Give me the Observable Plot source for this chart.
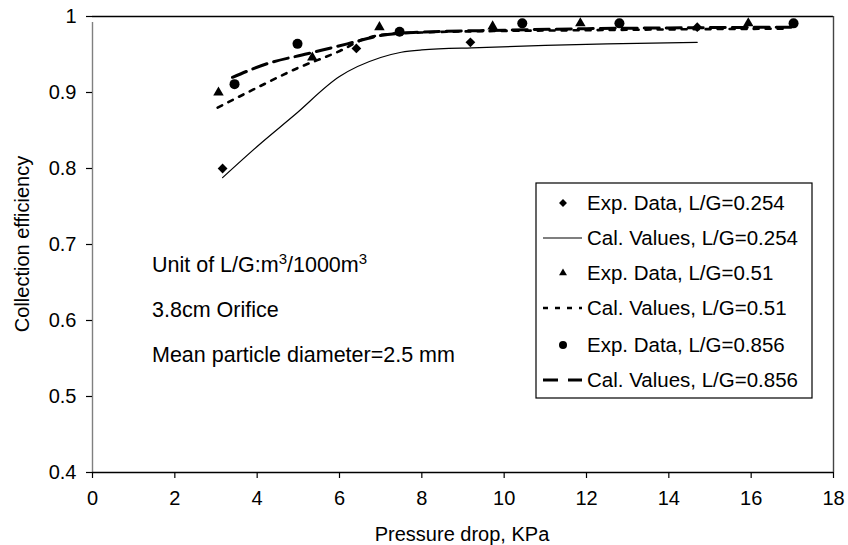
<!DOCTYPE html>
<html>
<head>
<meta charset="utf-8">
<script src="https://cdn.jsdelivr.net/npm/d3@7"></script>
<script src="https://cdn.jsdelivr.net/npm/@observablehq/plot@0.6"></script>
<style>
  html, body { margin: 0; padding: 0; background: #fff; }
  #wrap { position: relative; width: 848px; height: 545px; font-family: "Liberation Sans", Arial, Helvetica, sans-serif; }
</style>
</head>
<body>
<div id="wrap"></div>
<script>
// ---- data ----
const exp254X = [3.16, 6.41, 9.18, 14.69];
const exp254Y = [0.800, 0.958, 0.966, 0.986];
const exp051X = [3.06, 5.34, 6.97, 9.72, 11.85, 15.93];
const exp051Y = [0.900, 0.946, 0.986, 0.987, 0.991, 0.991];
const exp856X = [3.45, 4.98, 7.46, 10.44, 12.80, 17.03];
const exp856Y = [0.911, 0.964, 0.980, 0.991, 0.991, 0.991];

const cal254X = [3.16, 4.0, 4.9, 6.0, 7.0, 7.5, 8.0, 9.4, 11.0, 12.5, 14.69];
const cal254Y = [0.788, 0.829, 0.870, 0.921, 0.946, 0.953, 0.956, 0.959, 0.962, 0.964, 0.966];
const cal051X = [3.04, 3.91, 4.98, 6.02, 6.58, 7.2, 8.0, 10, 12, 14, 16.9];
const cal051Y = [0.880, 0.904, 0.932, 0.955, 0.970, 0.977, 0.979, 0.981, 0.982, 0.983, 0.984];
const cal856X = [3.40, 4.25, 5.22, 6.19, 7.0, 7.8, 10, 12, 14, 17.0];
const cal856Y = [0.920, 0.938, 0.951, 0.964, 0.975, 0.979, 0.982, 0.984, 0.985, 0.986];

const xTicks = [0, 2, 4, 6, 8, 10, 12, 14, 16, 18];
const yTicks = [0.4, 0.5, 0.6, 0.7, 0.8, 0.9, 1];

const legendLabels = [
  "Exp. Data, L/G=0.254",
  "Cal. Values, L/G=0.254",
  "Exp. Data, L/G=0.51",
  "Cal. Values, L/G=0.51",
  "Exp. Data, L/G=0.856",
  "Cal. Values, L/G=0.856"
];
const xTitle = "Pressure drop, KPa";
const yTitle = "Collection efficiency";

const zip = (xs, ys) => xs.map((x, i) => ({x, y: ys[i]}));

const FONT = "'Liberation Sans', Arial, Helvetica, sans-serif";

const chart = Plot.plot({
  width: 848,
  height: 545,
  marginLeft: 92,
  marginRight: 15,
  marginTop: 16,
  marginBottom: 73,
  style: {fontFamily: FONT, fontSize: "20px", background: "white", color: "black"},
  x: {domain: [0, 18], ticks: xTicks, label: null},
  y: {domain: [0.4, 1], ticks: yTicks, label: null},
  marks: [
    // frame
    Plot.ruleY([1], {stroke: "#000", strokeWidth: 1.3}),
    Plot.ruleX([18], {stroke: "#444", strokeWidth: 1.4}),
    Plot.ruleX([0], {stroke: "#808080", strokeWidth: 1.4, y1: 0.4, y2: 1, insetBottom: -6}),
    Plot.ruleY([0.4], {stroke: "#000", strokeWidth: 1.3}),
    Plot.axisX({ticks: xTicks, tickSize: 6, tickPadding: 12, tickFormat: d => String(d), stroke: "#000", strokeWidth: 1.2}),
    Plot.axisY({ticks: yTicks, tickSize: 6, tickPadding: 10, tickFormat: d => String(+d.toFixed(1)), stroke: "#000", strokeWidth: 1.2}),
    // calculated curves
    Plot.line(zip(cal254X, cal254Y), {x: "x", y: "y", stroke: "#000", strokeWidth: 1.2, curve: "monotone-x"}),
    Plot.line(zip(cal051X, cal051Y), {x: "x", y: "y", stroke: "#000", strokeWidth: 2.6, strokeDasharray: "5,7", curve: "monotone-x"}),
    Plot.line(zip(cal856X, cal856Y), {x: "x", y: "y", stroke: "#000", strokeWidth: 3, strokeDasharray: "15,7", curve: "monotone-x"}),
    // experimental points
    Plot.dot(zip(exp254X, exp254Y), {x: "x", y: "y", symbol: "diamond2", r: 4.4, fill: "#000", stroke: "none"}),
    Plot.dot(zip(exp051X, exp051Y), {x: "x", y: "y", symbol: "triangle2", r: 5, fill: "#000", stroke: "none"}),
    Plot.dot(zip(exp856X, exp856Y), {x: "x", y: "y", symbol: "circle", r: 5, fill: "#000", stroke: "none"})
  ]
});

document.getElementById("wrap").appendChild(chart);

const svg = d3.select(chart);

// axis titles
svg.append("text")
  .attr("transform", "translate(22,244) rotate(-90)")
  .attr("text-anchor", "middle")
  .attr("dy", "0.35em")
  .attr("font-size", 20)
  .attr("fill", "#000")
  .text(yTitle);

svg.append("text")
  .attr("x", 462).attr("y", 541)
  .attr("text-anchor", "middle")
  .attr("font-size", 20)
  .attr("fill", "#000")
  .text(xTitle);

// annotations
const ann = svg.append("g").attr("font-size", 21.5).attr("fill", "#000").attr("text-anchor", "start");
const t1 = ann.append("text").attr("x", 152).attr("y", 272);
t1.append("tspan").text("Unit of L/G:m");
t1.append("tspan").attr("baseline-shift", "super").attr("font-size", 15).text("3");
t1.append("tspan").text("/1000m");
t1.append("tspan").attr("baseline-shift", "super").attr("font-size", 15).text("3");
ann.append("text").attr("x", 152).attr("y", 317).text("3.8cm Orifice");
ann.append("text").attr("x", 152).attr("y", 362).text("Mean particle diameter=2.5 mm");

// legend
const lg = svg.append("g").attr("transform", "translate(536,183)").attr("text-anchor", "start");
lg.append("rect").attr("width", 276).attr("height", 215).attr("fill", "#fff").attr("stroke", "#000").attr("stroke-width", 1.2);
const rowY = [20, 55, 90, 125, 162, 197];
const symX = 27;
legendLabels.forEach((lab, i) => {
  const y = rowY[i];
  lg.append("text").attr("x", 51).attr("y", y).attr("dy", "0.36em")
    .attr("font-size", 20.5).attr("fill", "#000").text(lab);
});
// legend symbols
const sym = (type, size) => d3.symbol().type(type).size(size)();
lg.append("path").attr("d", sym(d3.symbolDiamond2 || d3.symbolSquare, 40)).attr("transform", `translate(${symX},${rowY[0]}) rotate(${d3.symbolDiamond2 ? 0 : 45})`).attr("fill", "#000");
lg.append("line").attr("x1", 7).attr("x2", 46).attr("y1", rowY[1]).attr("y2", rowY[1]).attr("stroke", "#000").attr("stroke-width", 1.2);
lg.append("path").attr("d", sym(d3.symbolTriangle2 || d3.symbolTriangle, 45)).attr("transform", `translate(${symX},${rowY[2]})`).attr("fill", "#000");
lg.append("line").attr("x1", 7).attr("x2", 46).attr("y1", rowY[3]).attr("y2", rowY[3]).attr("stroke", "#000").attr("stroke-width", 2.4).attr("stroke-dasharray", "5,7");
lg.append("circle").attr("cx", symX).attr("cy", rowY[4]).attr("r", 4).attr("fill", "#000");
lg.append("line").attr("x1", 7).attr("x2", 46).attr("y1", rowY[5]).attr("y2", rowY[5]).attr("stroke", "#000").attr("stroke-width", 3).attr("stroke-dasharray", "15,10");
</script>
</body>
</html>
